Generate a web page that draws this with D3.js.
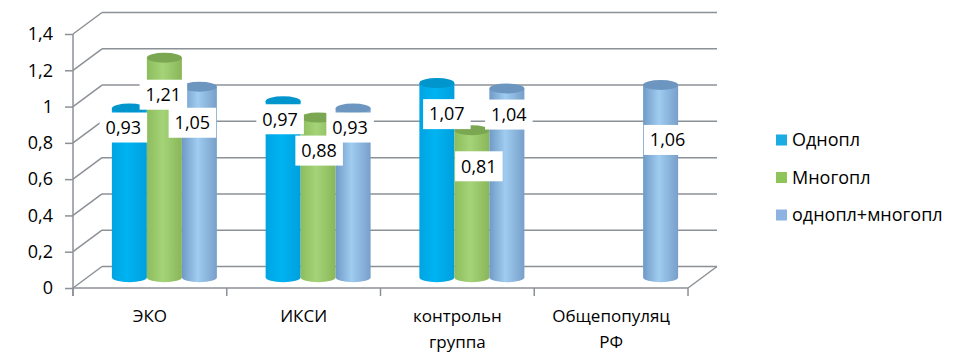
<!DOCTYPE html>
<html><head><meta charset="utf-8">
<script src="https://cdn.jsdelivr.net/npm/d3@7"></script>
<style>
html,body{margin:0;padding:0;background:#fff;}
svg{display:block;font-family:"Open Sans","Noto Sans",sans-serif;}
</style></head>
<body>
<svg id="chart" width="974" height="358"></svg>
<script>
// ---- data ----
const categories = ["ЭКО", "ИКСИ", "контрольн\nгруппа", "Общепопуляц\nРФ"];
const seriesNames = ["Однопл", "Многопл", "однопл+многопл"];
const odnopl = [0.93, 0.97, 1.07, null];
const mnogopl = [1.21, 0.88, 0.81, null];
const odnoplMnogopl = [1.05, 0.93, 1.04, 1.06];
const yTickValues = [0, 0.2, 0.4, 0.6, 0.8, 1, 1.2, 1.4];

// ---- layout / style ----
const seriesValues = [odnopl, mnogopl, odnoplMnogopl];
const colors = {
  legend: ["#1aace3", "#8fc45a", "#8db3e2"],
  cap: ["#0095cd", "#7ba752", "#6c96c0"],
  grad: [
    ["#00a4e2", "#00b3f2", "#009fdc"],
    ["#8cbd5d", "#a5d378", "#88b658"],
    ["#6e9ac6", "#a0ccf0", "#779fca"]
  ]
};
// label nudges (px) relative to bar centre / top, per series, per category
const labelNudge = [
  [[-6, 19], [-3, 18], [10, 31], null],
  [[-1, 37], [1, 33], [7, 36], null],
  [[-7, 36], [-3, 19], [2, 26], [7, 55]]
];
const front = {left: 73, right: 688, top: 34, bottom: 288};
const depth = {dx: 29, dy: -21.5};
const gridColor = "#8c9197";

const svg = d3.select("#chart");
const defs = svg.append("defs");
colors.grad.forEach((g, i) => {
  const lg = defs.append("linearGradient").attr("id", "g" + i)
    .attr("x1", "0%").attr("x2", "100%").attr("y1", "0%").attr("y2", "0%");
  lg.append("stop").attr("offset", "0%").attr("stop-color", g[0]);
  lg.append("stop").attr("offset", "45%").attr("stop-color", g[1]);
  lg.append("stop").attr("offset", "100%").attr("stop-color", g[2]);
});

const x = d3.scaleBand().domain(d3.range(categories.length)).range([front.left, front.right]);
const y = d3.scaleLinear().domain([0, 1.4]).range([front.bottom, front.top]);
const xs = d3.scaleBand().domain(d3.range(seriesNames.length)).range([-52.5, 52.5]);

// back wall gridlines
const g = svg.append("g");
g.selectAll("line.grid").data(yTickValues).join("line")
  .attr("x1", front.left + depth.dx).attr("x2", front.right + depth.dx)
  .attr("y1", d => y(d) + depth.dy).attr("y2", d => y(d) + depth.dy)
  .attr("stroke", gridColor).attr("stroke-width", 1.5);
// side wall diagonals
g.selectAll("line.diag").data(yTickValues).join("line")
  .attr("x1", front.left).attr("y1", d => y(d))
  .attr("x2", front.left + depth.dx).attr("y2", d => y(d) + depth.dy)
  .attr("stroke", gridColor).attr("stroke-width", 1.5);
// floor right diagonal
g.append("line")
  .attr("x1", front.right).attr("y1", y(0))
  .attr("x2", front.right + depth.dx).attr("y2", y(0) + depth.dy)
  .attr("stroke", gridColor).attr("stroke-width", 1.5);

// front axes
const yAxis = d3.axisLeft(y).tickValues(yTickValues).tickSize(8).tickPadding(12)
  .tickFormat(d => d3.format("~g")(d).replace(".", ","));
const ya = svg.append("g").attr("transform", `translate(${front.left},0)`).call(yAxis);
ya.select(".domain").attr("stroke", gridColor).attr("stroke-width", 1.5).attr("d", `M0,${front.top}V${front.bottom + 8}`);
ya.selectAll(".tick line").attr("stroke", gridColor).attr("stroke-width", 1.5);
ya.selectAll(".tick text").attr("font-size", 18).attr("fill", "#000").attr("font-family", "Open Sans");

const catTicks = d3.range(categories.length + 1).map(i => front.left + i * x.step());
const xa = svg.append("g");
xa.append("line").attr("x1", front.left).attr("x2", front.right).attr("y1", y(0)).attr("y2", y(0))
  .attr("stroke", gridColor).attr("stroke-width", 1.5);
xa.selectAll("line.t").data(catTicks).join("line")
  .attr("x1", d => d).attr("x2", d => d).attr("y1", y(0)).attr("y2", y(0) + 8)
  .attr("stroke", gridColor).attr("stroke-width", 1.5);
categories.forEach((c, i) => {
  const lines = c.split("\n");
  const t = xa.append("text").attr("text-anchor", "middle").attr("font-size", 17).attr("fill", "#000")
    .attr("x", x(i) + x.bandwidth() / 2).attr("y", 322);
  lines.forEach((l, k) => t.append("tspan").attr("x", x(i) + x.bandwidth() / 2).attr("dy", k ? 26 : 0).text(l));
});

// cylinders
const rx = xs.bandwidth() / 2, ry = 5;
const baseY = y(0) + depth.dy / 2;
const bars = [];
seriesValues.forEach((vals, s) => {
  vals.forEach((v, c) => {
    if (v == null) return;
    const cx = x(c) + x.bandwidth() / 2 + depth.dx / 2 + xs(s) + rx;
    const top = y(v) + depth.dy / 2;
    bars.push({s, c, v, cx, top});
  });
});
bars.sort((a, b) => a.c - b.c || a.s - b.s);
const bg = svg.append("g");
bars.forEach(b => {
  bg.append("path")
    .attr("d", `M${b.cx - rx},${b.top}L${b.cx - rx},${baseY}A${rx},${ry} 0 0 0 ${b.cx + rx},${baseY}L${b.cx + rx},${b.top}Z`)
    .attr("fill", `url(#g${b.s})`);
  bg.append("ellipse").attr("cx", b.cx).attr("cy", b.top).attr("rx", rx).attr("ry", ry)
    .attr("fill", colors.cap[b.s]);
});

// data labels
const lg2 = svg.append("g");
bars.forEach(b => {
  const n = labelNudge[b.s][b.c];
  const lx = b.cx + n[0], ly = b.top + n[1];
  const grp = lg2.append("g");
  const txt = grp.append("text").attr("x", lx).attr("y", ly).attr("dy", "0.35em")
    .attr("text-anchor", "middle").attr("font-size", 18).attr("fill", "#000")
    .text(String(b.v.toFixed(2)).replace(".", ","));
  const w = txt.node().getComputedTextLength();
  grp.insert("rect", "text").attr("x", lx - w / 2 - 6).attr("y", ly - 15).attr("width", w + 12).attr("height", 30)
    .attr("fill", "#fff");
});

// legend
const leg = svg.append("g");
seriesNames.forEach((n, i) => {
  const yy = 140 + i * 37.5;
  leg.append("rect").attr("x", 776).attr("y", yy - 5.5).attr("width", 11).attr("height", 11).attr("fill", colors.legend[i]);
  leg.append("text").attr("x", 792).attr("y", yy).attr("dy", "0.35em").attr("font-size", 18).attr("fill", "#000").text(n);
});
</script>
</body></html>
